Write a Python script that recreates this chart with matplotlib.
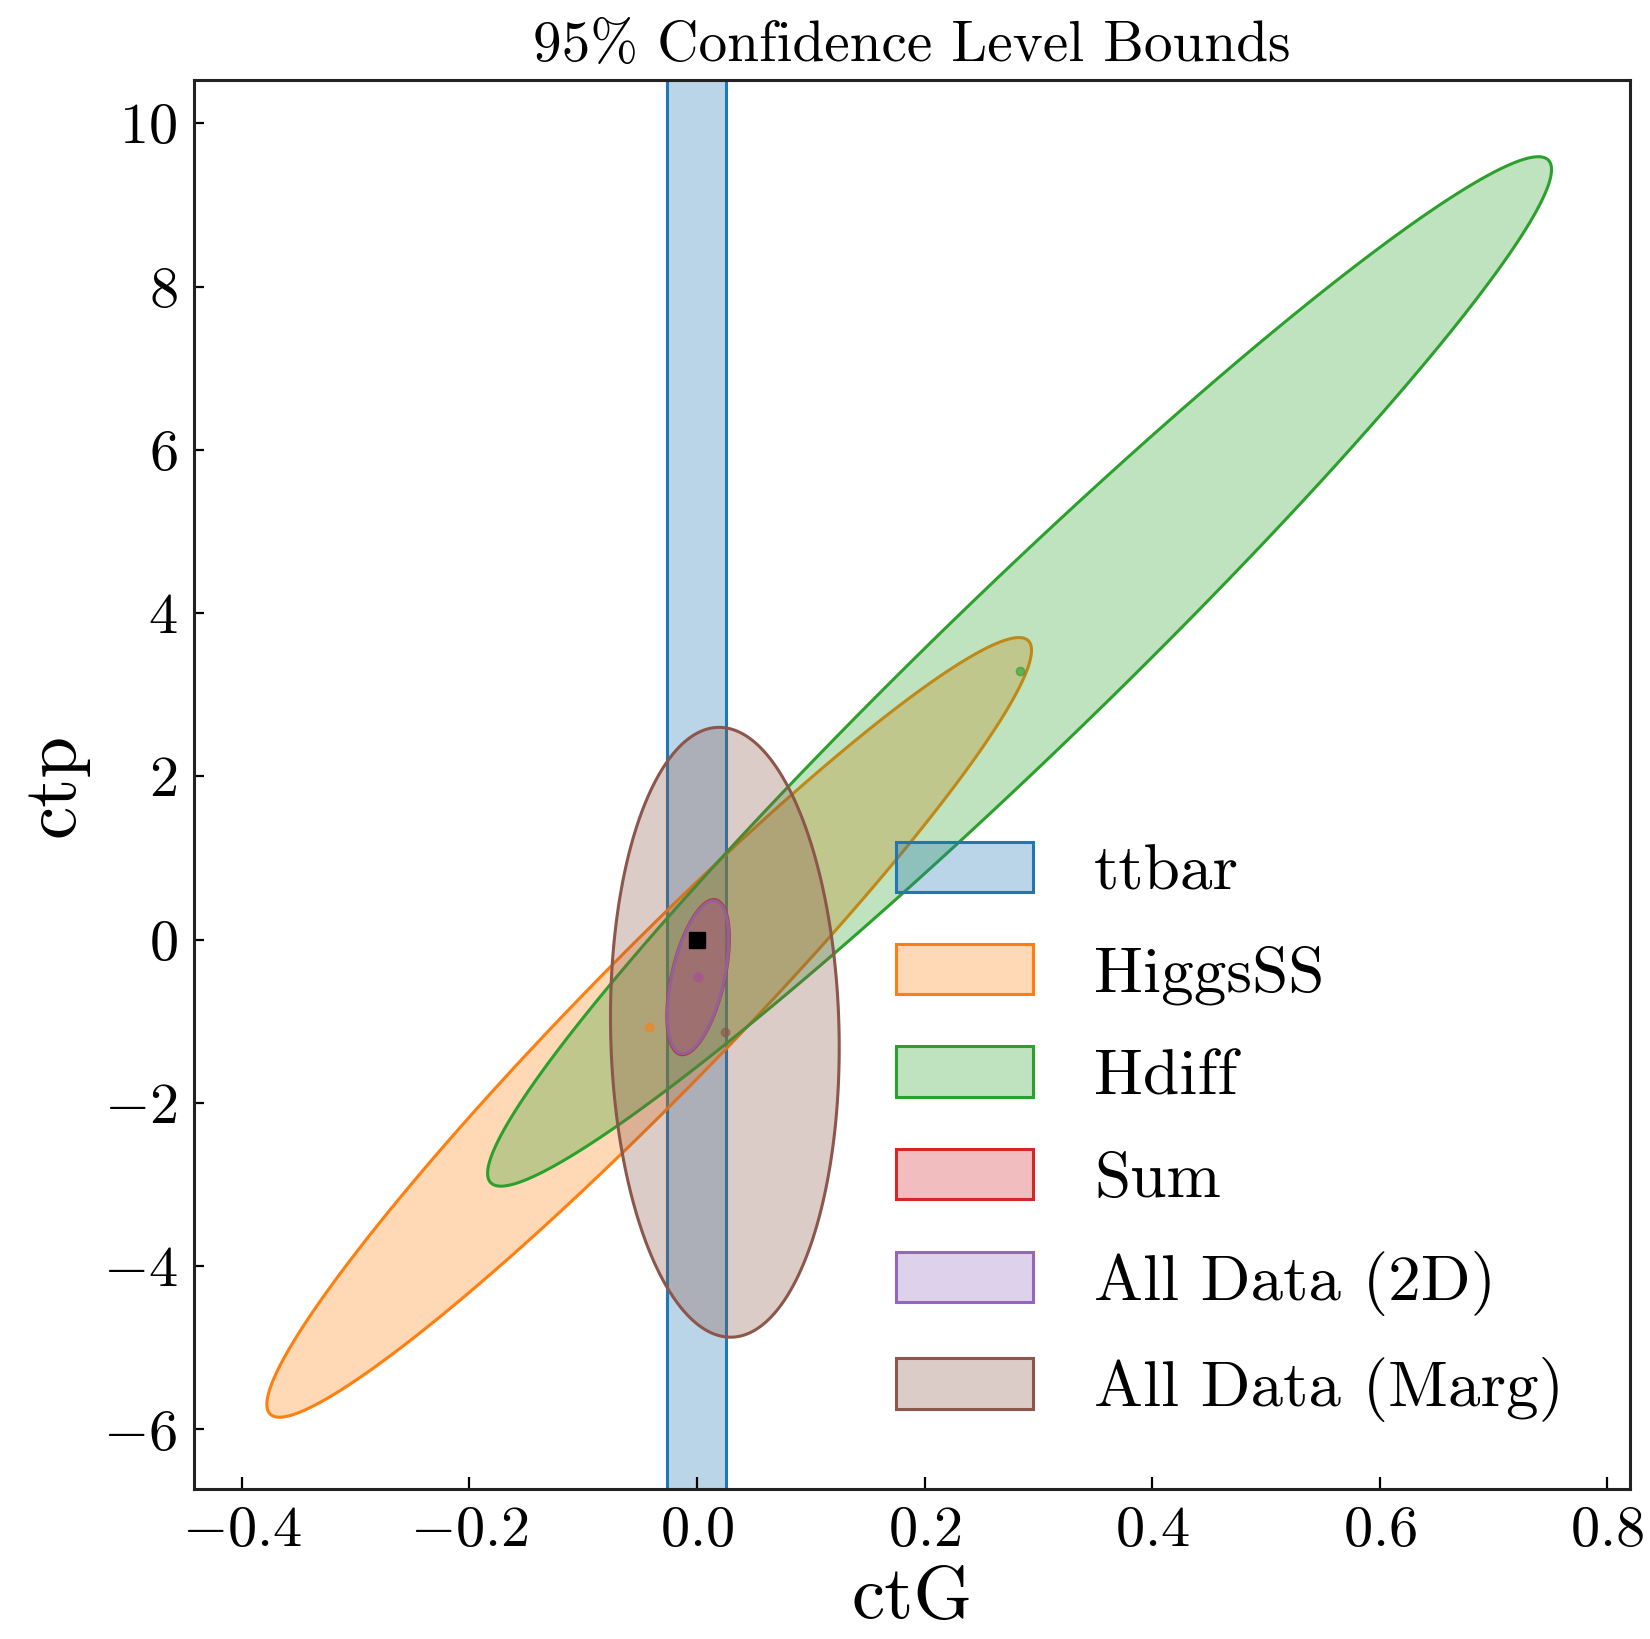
# Contornos de 95% CL no plano ctG x ctp
import numpy as np
import matplotlib
matplotlib.use('Agg')
import matplotlib.pyplot as plt
from matplotlib.colors import to_rgba

plt.rcParams['font.family'] = 'serif'
plt.rcParams['font.serif'] = ['cmr10']
plt.rcParams['mathtext.fontset'] = 'cm'
plt.rcParams['axes.formatter.use_mathtext'] = True

# Dados
nomes = ['ttbar', 'HiggsSS', 'Hdiff', 'Sum', 'All Data (2D)', 'All Data (Marg)']
cores = ['C0', 'C1', 'C2', 'C3', 'C4', 'C5']

# ttbar só restringe ctG (faixa vertical)
ttbar_ctG = [-0.026, 0.0256]

# elipses: centro, meia-largura em ctG, meia-altura em ctp, correlação
centro_ctG = [-0.042, 0.2835, 0.001, 0.001, 0.0245]
centro_ctp = [-1.075, 3.285, -0.46, -0.46, -1.135]
meia_ctG = [0.336, 0.4675, 0.0275, 0.027, 0.1005]
meia_ctp = [4.775, 6.305, 0.95, 0.935, 3.735]
correl = [0.967, 0.975, 0.5, 0.5, -0.05]

ponto_sm = (0.0, 0.0)

fig = plt.figure(figsize=(16.5, 16.39), dpi=100)
ax = fig.add_axes([0.1176, 0.0915, 0.8703, 0.8597])

ax.axvspan(ttbar_ctG[0], ttbar_ctG[1], facecolor=to_rgba(cores[0], 0.3),
           edgecolor=cores[0], lw=2.2, label=nomes[0])

t = np.linspace(0, 2 * np.pi, 600)
for i in range(len(centro_ctG)):
    delta = np.arccos(correl[i])
    x = centro_ctG[i] + meia_ctG[i] * np.cos(t)
    y = centro_ctp[i] + meia_ctp[i] * np.cos(t + delta)
    ax.fill(x, y, facecolor=to_rgba(cores[i + 1], 0.3), edgecolor=cores[i + 1],
            lw=2.2, label=nomes[i + 1])
    ax.plot(centro_ctG[i], centro_ctp[i], 'o', color=cores[i + 1], ms=6, alpha=0.6)

ax.plot(ponto_sm[0], ponto_sm[1], 's', color='black', ms=11)

ax.set_xlim(-0.442, 0.820)
ax.set_ylim(-6.73, 10.53)
ax.set_xticks([-0.4, -0.2, 0.0, 0.2, 0.4, 0.6, 0.8])
ax.set_yticks([-6, -4, -2, 0, 2, 4, 6, 8, 10])
ax.tick_params(direction='in', labelsize=42, width=1.6, length=9, pad=12)
ax.tick_params(axis='y', length=7)
for s in ax.spines.values():
    s.set_linewidth(2.2)
    s.set_color('#222222')

ax.set_title('95% Confidence Level Bounds', fontsize=41.3, pad=14)
ax.set_xlabel('ctG', fontsize=54, labelpad=6)
ax.set_ylabel('ctp', fontsize=54, labelpad=10)

ax.legend(loc='lower right', bbox_to_anchor=(0.995, 0.006), frameon=False, fontsize=47,
          handlelength=2.1, handleheight=0.82, handletextpad=0.93, labelspacing=0.63)

plt.savefig('out.png', dpi=100)
